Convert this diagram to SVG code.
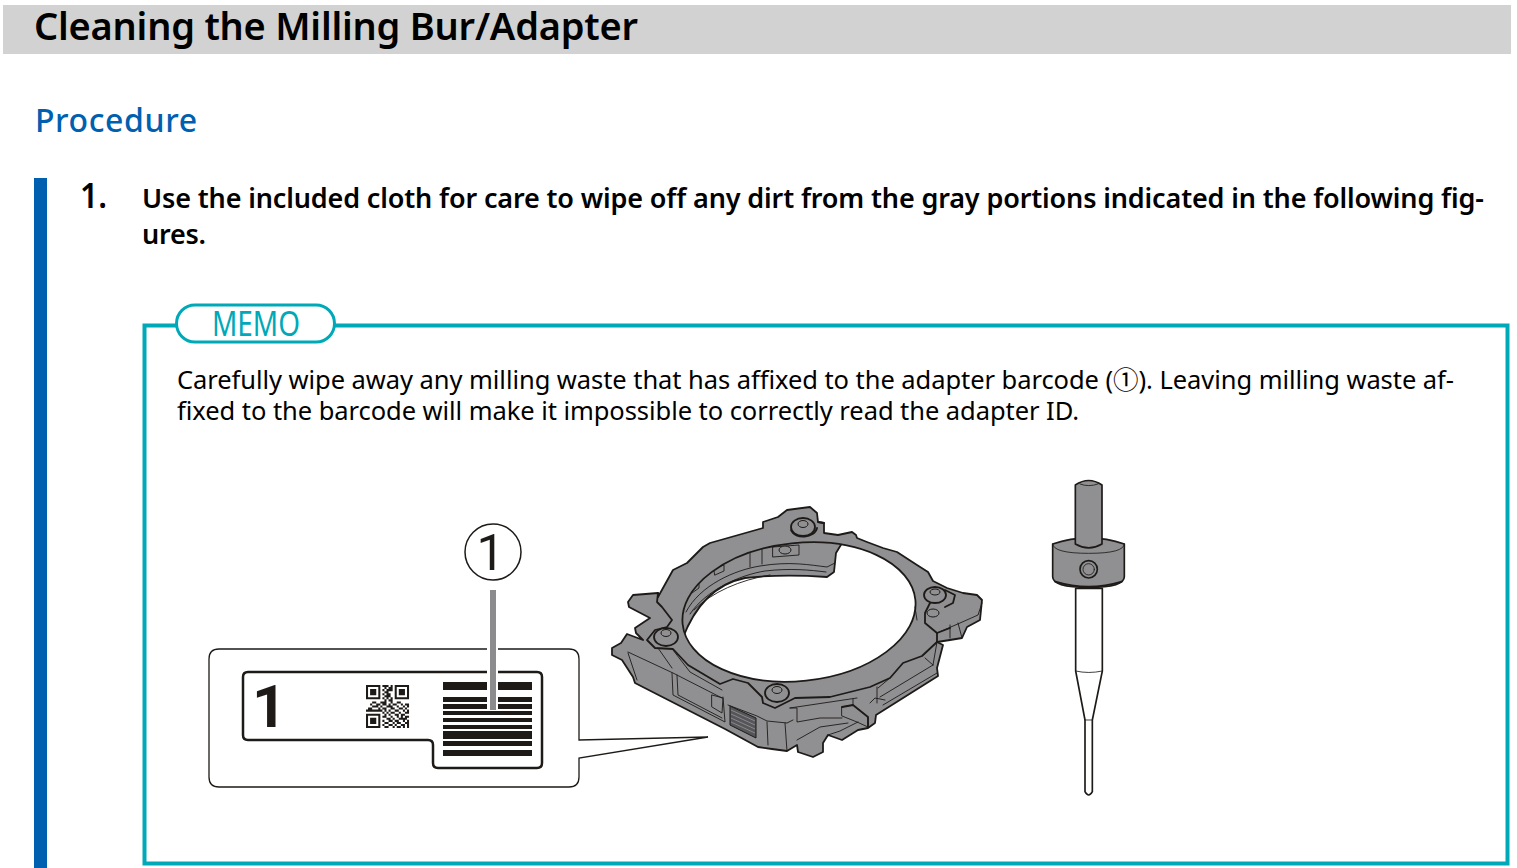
<svg xmlns="http://www.w3.org/2000/svg" width="1517" height="868" viewBox="0 0 1517 868">
<defs><clipPath id="hole"><ellipse cx="799" cy="612" rx="117" ry="69" transform="rotate(-6 799 612)"/></clipPath></defs>
<style>
text{font-family:"Noto Sans","DejaVu Sans",sans-serif;fill:#000}
.ln{fill:none;stroke:#1d1a18;stroke-width:1.800;stroke-linejoin:round;stroke-linecap:round}
.th{fill:none;stroke:#1d1a18;stroke-width:.9;stroke-linejoin:round;stroke-linecap:round}
.gr{fill:#909092;stroke:#1d1a18;stroke-width:1.800;stroke-linejoin:round}
.lt{fill:#909092;stroke:#1d1a18;stroke-width:1;stroke-linejoin:round}
.tl{fill:#909092;stroke:#1d1a18;stroke-width:5;stroke-linejoin:round}
.tn{fill:none;stroke:#1d1a18;stroke-width:2.500;stroke-linejoin:round;stroke-linecap:round}
.bar{fill:#1d1a18}
</style>
<rect width="1517" height="868" fill="#fff"/>
<g id="title"><rect x="3" y="5" width="1508" height="49" fill="#d2d2d2"/>
<text x="34" y="40" font-size="38" font-weight="600" textLength="604" lengthAdjust="spacing">Cleaning the Milling Bur/Adapter</text></g>
<text id="procedure" x="35" y="132" font-size="32" font-weight="500" textLength="162" lengthAdjust="spacing" style="fill:#0060b0">Procedure</text>
<rect id="stepbar" x="34" y="178" width="13" height="690" fill="#0060b0"/>
<g id="step">
<text x="80" y="208" font-size="34" font-weight="600" textLength="27" lengthAdjust="spacingAndGlyphs">1.</text>
<text x="142" y="208" font-size="27" font-weight="600" textLength="1342" lengthAdjust="spacing">Use the included cloth for care to wipe off any dirt from the gray portions indicated in the following fig-</text>
<text x="142" y="244" font-size="27" font-weight="600" textLength="64" lengthAdjust="spacing">ures.</text>
</g>
<g id="memo">
<rect x="144.500" y="325.500" width="1363" height="538" fill="none" stroke="#00a9b8" stroke-width="4"/>
<rect x="176.500" y="305" width="158" height="37" rx="18.500" fill="#fff" stroke="#00a9b8" stroke-width="3"/>
<text x="212" y="336" font-size="34" textLength="88" lengthAdjust="spacingAndGlyphs" style="fill:#00a9b8">MEMO</text>
<text x="177" y="389" font-size="25.500" textLength="1277" lengthAdjust="spacing">Carefully wipe away any milling waste that has affixed to the adapter barcode (<tspan style="font-family:'Noto Sans CJK JP',sans-serif">①</tspan>). Leaving milling waste af-</text>
<text x="177" y="420" font-size="25.500" textLength="902" lengthAdjust="spacing">fixed to the barcode will make it impossible to correctly read the adapter ID.</text>
</g>
<g id="adapter">
<path class="gr" d="M658 593L633 595L628 602L629 607L650 618L635 628L636 633L643 640L627 634L621 643L612 648L612 655L622 660L633 677L635 683L725 729L758 747L772 749L787 751L797 745L798 752L813 757L823 752L823 743L828 735L842 740L858 730L868 728L875 723L876 715L938 676L937 668L943 645L937 642L950 640L962 638L967 627L980 620L982 600L977 595L963 593L947 588L933 581L928 572L917 565L897 552L883 548L867 542L857 538L856 535L852 532L838 535L824 533L824 523L818 522L817 513L810 507L787 510L778 517L763 522L763 528L710 543L703 547L687 563L673 570L658 597Z"/>
<ellipse cx="799" cy="612" rx="117" ry="69" transform="rotate(-6 799 612)" fill="#fff"/>
<g clip-path="url(#hole)">
<path d="M670 640V530H850L836 553L834 572L827 577C800 575 770 575 745 578C715 584 695 605 682 640Z" fill="#909092" stroke="#1d1a18" stroke-width="1.800" stroke-linejoin="round"/>
<path class="th" d="M686 612C700 585 735 570 760 566C790 561 810 565 827 567L835 563M690 614C706 590 740 575 765 571C790 568 810 570 826 572M694 610C712 592 740 580 770 575M750 545V567M762 545V564M773 547L799 545V555L773 557ZM714 568L724 565V571L715 575ZM692 586L699 581V588L692 593"/>
<ellipse class="lt" cx="785" cy="550" rx="6" ry="4"/>
</g>
<ellipse cx="799" cy="612" rx="117" ry="69" transform="rotate(-6 799 612)" fill="none" stroke="#1d1a18" stroke-width="1.800"/>
<path class="ln" d="M658 593L657 602L662 607L672 620L667 627L655 630L647 640L655 648L673 649L688 665L720 684L733 679L748 683L762 697L763 703L775 708L795 698L830 697L870 687L890 678L903 663L922 656L937 642L937 633L925 623L925 613L930 603"/>
<path class="th" d="M628 652L673 673L722 698M628 653L637 680M672 673L673 695L725 722L723 697M677 675L678 695L722 718M712 695L723 698L722 713L712 707ZM728 705L757 716L767 721L787 723L793 720M767 722L768 745M785 723L787 751M658 648L672 668M673 650L690 672L722 690"/>
<path d="M730 706L756 718V738L730 725Z" fill="#55555a" stroke="#1d1a18" stroke-width="1"/>
<path d="M731 710L755 721M731 714L755 725M731 718L755 729M731 722L755 733" stroke="#a0a0a0" stroke-width=".7" fill="none"/>
<path class="th" d="M790 708H797V722L820 718H842M842 707L853 705L868 717V727L857 722L842 716ZM797 740L820 727L848 723M828 735L840 731L858 722M877 687V703M880 697L933 665M883 705L937 673M870 703L875 698L885 700M878 688L890 678M925 658L933 665M937 642L933 665M950 625V638M958 623L962 638M937 633L960 623L978 615L982 603M790 708L857 698M853 705V699M915 607L917 620"/>
<path class="ln" d="M842 707L853 705L868 717V727M937 633L950 628"/>
<g id="bolts">
<ellipse class="gr" cx="803" cy="527" rx="12" ry="9"/><ellipse class="lt" cx="803" cy="524" rx="5" ry="3.500"/>
<path class="ln" d="M818 522L824 523M791 530C795 540 815 538 817 528"/>
<ellipse class="gr" cx="666" cy="637" rx="12" ry="9"/><ellipse class="lt" cx="666" cy="633" rx="5" ry="3.500"/>
<ellipse class="gr" cx="777" cy="693" rx="12" ry="9"/><ellipse class="lt" cx="777" cy="690" rx="5" ry="3.500"/>
<ellipse class="gr" cx="935" cy="595" rx="11" ry="8"/><ellipse class="lt" cx="935" cy="592" rx="5" ry="3"/>
<path class="ln" d="M945 590L955 595L953 603L945 607"/>
<ellipse class="lt" cx="933" cy="613" rx="6" ry="4"/>
</g>
</g>
<g id="tool" transform="translate(1030 470) scale(.33333)">
<path d="M137 355V603L165 750V965Q176 985 187 965V750L217 603V355Z" fill="#fff" stroke="#1d1a18" stroke-width="5" stroke-linejoin="round"/>
<path class="tn" d="M137 603Q176 612 217 603M165 750H187"/>
<path class="tl" d="M68 222Q176 185 283 222V320Q283 352 176 352Q68 352 68 320Z"/>
<path class="tn" d="M68 222Q70 250 176 250Q282 250 283 222"/>
<path class="tn" style="stroke-width:5" d="M76 335Q176 365 275 335"/>
<circle cx="176" cy="298" r="26" class="tl"/><circle cx="176" cy="298" r="17" class="tn"/>
<path class="tl" d="M136 45Q176 18 216 45V222Q176 245 136 222Z"/>
<path class="tn" d="M150 42Q176 52 204 42"/>
</g>
<g id="callout">
<circle cx="493" cy="552" r="28" fill="#fff" stroke="#1d1a18" stroke-width="1.500"/>
<text x="490.500" y="570" font-size="50" text-anchor="middle" style="font-family:Roboto,sans-serif;fill:#1d1a18">1</text>
</g>
<g id="detail">
<path d="M219 649H569Q579 649 579 659V740L708 737L579 758V777Q579 787 569 787H219Q209 787 209 777V659Q209 649 219 649Z" fill="#fff" stroke="#1d1a18" stroke-width="1.300"/>
<path d="M248 672H537Q542 672 542 677V763Q542 768 537 768H438Q433 768 433 763V745Q433 740 428 740H248Q243 740 243 735V677Q243 672 248 672Z" fill="#fff" stroke="#1d1a18" stroke-width="2.500"/>
<text x="252" y="727" font-size="60" font-weight="700" style="font-family:Roboto,sans-serif;fill:#1d1a18">1</text>
<path class="bar" d="M443 682h89v8h-89zM443 697h89v5h-89zM443 704h89v5h-89zM443 711h89v4h-89zM443 718h89v4h-89zM443 725h89v4h-89zM443 731h89v8h-89zM443 741h89v5h-89zM443 750h89v6h-89z"/>
<g transform="translate(366 685) scale(2.050)">
<path class="bar" fill-rule="evenodd" d="M0 0h7v7h-7zM1 1v5h5v-5zM2 2h3v3h-3zM14 0h7v7h-7zM15 1v5h5v-5zM16 2h3v3h-3zM0 14h7v7h-7zM1 15v5h5v-5zM2 16h3v3h-3z"/>
<path class="bar" d="M8 0h3v1h-3zM12 0h1v1h-1zM9 1h1v1h-1zM11 1h2v1h-2zM8 2h1v1h-1zM10 2h3v1h-3zM9 3h2v1h-2zM8 4h1v1h-1zM10 4h2v1h-2zM9 5h3v1h-3zM8 6h1v1h-1zM10 6h1v1h-1zM12 6h1v1h-1zM9 7h1v1h-1zM11 7h2v1h-2zM3 8h2v1h-2zM7 8h3v1h-3zM12 8h1v1h-1zM15 8h2v1h-2zM2 9h1v1h-1zM5 9h2v1h-2zM8 9h2v1h-2zM11 9h1v1h-1zM13 9h2v1h-2zM17 9h1v1h-1zM19 9h2v1h-2zM3 10h3v1h-3zM7 10h1v1h-1zM10 10h3v1h-3zM15 10h1v1h-1zM18 10h1v1h-1zM20 10h1v1h-1zM1 11h2v1h-2zM6 11h1v1h-1zM8 11h2v1h-2zM12 11h2v1h-2zM16 11h2v1h-2zM19 11h1v1h-1zM0 12h8v1h-8zM9 12h1v1h-1zM11 12h1v1h-1zM14 12h2v1h-2zM18 12h1v1h-1zM20 12h1v1h-1zM8 13h1v1h-1zM10 13h1v1h-1zM12 13h2v1h-2zM16 13h1v1h-1zM19 13h2v1h-2zM9 14h1v1h-1zM11 14h1v1h-1zM14 14h2v1h-2zM17 14h2v1h-2zM8 15h2v1h-2zM12 15h1v1h-1zM15 15h1v1h-1zM17 15h1v1h-1zM19 15h2v1h-2zM10 16h2v1h-2zM13 16h1v1h-1zM16 16h4v1h-4zM8 17h1v1h-1zM11 17h2v1h-2zM14 17h2v1h-2zM18 17h1v1h-1zM20 17h1v1h-1zM9 18h2v1h-2zM13 18h1v1h-1zM15 18h2v1h-2zM19 18h2v1h-2zM8 19h1v1h-1zM11 19h2v1h-2zM14 19h1v1h-1zM17 19h2v1h-2zM20 19h1v1h-1zM9 20h2v1h-2zM13 20h1v1h-1zM15 20h2v1h-2zM18 20h1v1h-1zM20 20h1v1h-1z"/>
</g>
<path d="M492.500 590V711" stroke="#fff" stroke-width="11" fill="none"/>
<path d="M493 590V710" stroke="#8c8c8e" stroke-width="6" fill="none"/>
</g>
</svg>
